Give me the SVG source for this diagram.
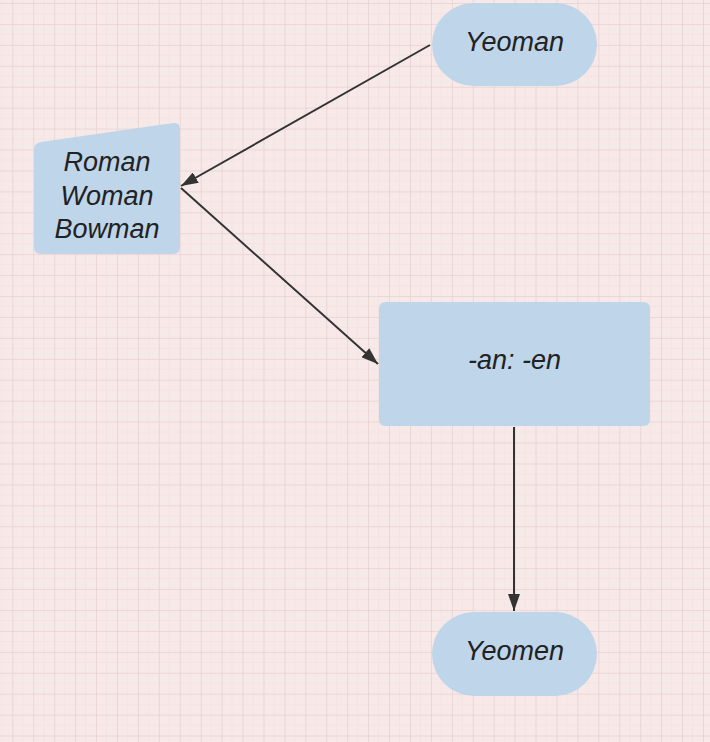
<svg xmlns="http://www.w3.org/2000/svg" width="710" height="742" viewBox="0 0 710 742">
<defs>
<style>
.node{fill:#bfd5ea;}
.lbl{font-family:"Liberation Sans",Arial,sans-serif;font-style:italic;font-size:27px;fill:#222;text-anchor:middle;}
.conn{stroke:#333;stroke-width:2;fill:none;}
</style>
<pattern id="grid" x="12.3" y="3" width="20.93" height="20.93" patternUnits="userSpaceOnUse">
<path d="M10.46 0V20.93M0 10.46H20.93" stroke="#f5e3e3" stroke-width="1" fill="none"/>
<path d="M0 0V20.93M0 0H20.93" stroke="#e8d0d0" stroke-width="1.5" fill="none"/>
</pattern>
<marker id="arr" viewBox="0 0 17 12" refX="17" refY="6" markerWidth="17" markerHeight="12" markerUnits="userSpaceOnUse" orient="auto">
<path d="M0 0L17 6L0 12Z" fill="#333"/>
</marker>
</defs>
<rect width="710" height="742" fill="#f8e9e9"/>
<rect width="710" height="742" fill="url(#grid)"/>
<g id="connectors">
<line class="conn" x1="430" y1="45" x2="181" y2="186" marker-end="url(#arr)"/>
<line class="conn" x1="181" y1="188" x2="378" y2="364" marker-end="url(#arr)"/>
<line class="conn" x1="514" y1="427" x2="514" y2="611" marker-end="url(#arr)"/>
</g>
<g id="yeoman">
<rect class="node" x="432" y="3" width="165" height="83" rx="41.5"/>
<text class="lbl" x="514.5" y="51">Yeoman</text>
</g>
<g id="roman">
<path class="node" d="M34 150Q34 143 41 142L173 123Q180 122 180 129V247Q180 254 173 254H41Q34 254 34 247Z"/>
<text class="lbl" x="107" y="171">Roman</text>
<text class="lbl" x="107" y="205">Woman</text>
<text class="lbl" x="107" y="238">Bowman</text>
</g>
<g id="suffix">
<rect class="node" x="379" y="302" width="271" height="124" rx="6"/>
<text class="lbl" x="514.5" y="369">-an: -en</text>
</g>
<g id="yeomen">
<rect class="node" x="432" y="612" width="165" height="84" rx="42"/>
<text class="lbl" x="514.5" y="660">Yeomen</text>
</g>
</svg>
